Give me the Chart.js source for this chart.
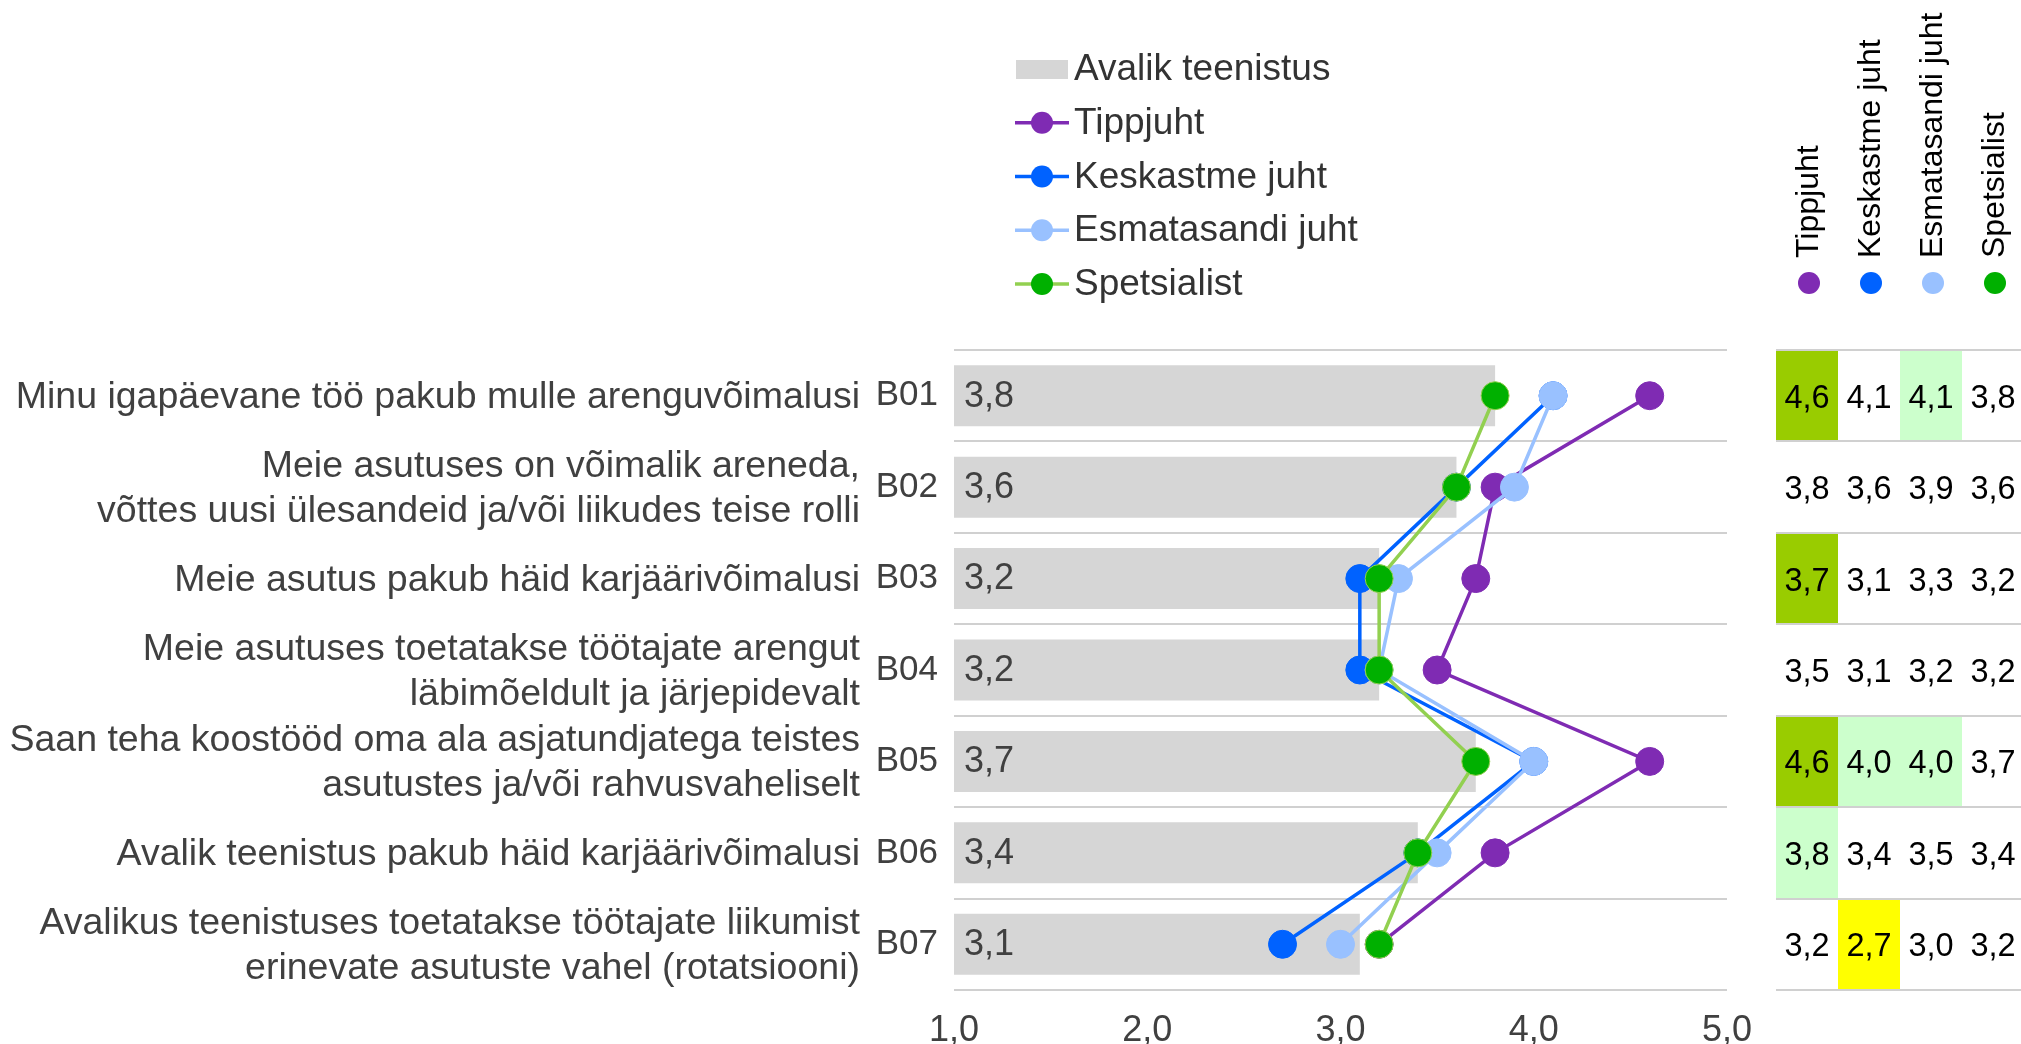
<!DOCTYPE html>
<html lang="et">
<head>
<meta charset="utf-8">
<title>Arenguvõimalused</title>
<script src="https://cdn.jsdelivr.net/npm/chart.js@4/dist/chart.umd.min.js"></script>
<style>
  html, body { margin: 0; padding: 0; background: #fff; }
  canvas { display: block; }
</style>
</head>
<body>
<canvas id="chart" width="2021" height="1044"></canvas>
<script>
// ---- data ----
const codes = ['B01', 'B02', 'B03', 'B04', 'B05', 'B06', 'B07'];

const statements = [
  ['Minu igapäevane töö pakub mulle arenguvõimalusi'],
  ['Meie asutuses on võimalik areneda,', 'võttes uusi ülesandeid ja/või liikudes teise rolli'],
  ['Meie asutus pakub häid karjäärivõimalusi'],
  ['Meie asutuses toetatakse töötajate arengut', 'läbimõeldult ja järjepidevalt'],
  ['Saan teha koostööd oma ala asjatundjatega teistes', 'asutustes ja/või rahvusvaheliselt'],
  ['Avalik teenistus pakub häid karjäärivõimalusi'],
  ['Avalikus teenistuses toetatakse töötajate liikumist', 'erinevate asutuste vahel (rotatsiooni)']
];

const avalikTeenistus = [3.8, 3.6, 3.2, 3.2, 3.7, 3.4, 3.1];
const tippjuht        = [4.6, 3.8, 3.7, 3.5, 4.6, 3.8, 3.2];
const keskastmeJuht   = [4.1, 3.6, 3.1, 3.1, 4.0, 3.4, 2.7];
const esmatasandiJuht = [4.1, 3.9, 3.3, 3.2, 4.0, 3.5, 3.0];
const spetsialist     = [3.8, 3.6, 3.2, 3.2, 3.7, 3.4, 3.2];

// comparison with the public-service average: 2 = much higher, 1 = higher, -1 = lower
const tippjuhtFlags    = [2, 0, 2, 0, 2, 1, 0];
const keskastmeFlags   = [0, 0, 0, 0, 1, 0, -1];
const esmatasandiFlags = [1, 0, 0, 0, 1, 0, 0];
const spetsialistFlags = [0, 0, 0, 0, 0, 0, 0];

const xTicks = [1, 2, 3, 4, 5];

// ---- styling ----
const FONT = '"Liberation Sans", Arial, Helvetica, sans-serif';
const TEXT = '#404040';
const GRID = '#d0d0d0';
const BAR = '#d6d6d6';

const groups = [
  { name: 'Tippjuht',         values: tippjuht,        flags: tippjuhtFlags,    dot: '#7f2bb3', line: '#7f2bb3' },
  { name: 'Keskastme juht',   values: keskastmeJuht,   flags: keskastmeFlags,   dot: '#0062ff', line: '#0062ff' },
  { name: 'Esmatasandi juht', values: esmatasandiJuht, flags: esmatasandiFlags, dot: '#99c1ff', line: '#99c1ff' },
  { name: 'Spetsialist',      values: spetsialist,     flags: spetsialistFlags, dot: '#00b000', line: '#92d050' }
];
const flagFill = { '2': '#99cc00', '1': '#ccffcc', '-1': '#ffff00' };

const fmt = v => v.toFixed(1).replace('.', ',');

// ---- extra drawing: statements, value labels, side table, legend ----
const extras = {
  id: 'extras',
  afterDatasetsDraw(chart) {
    const { ctx, chartArea } = chart;
    const meta = chart.getDatasetMeta(chart.data.datasets.length - 1);
    ctx.save();
    ctx.font = `36px ${FONT}`;
    ctx.fillStyle = TEXT;
    ctx.textAlign = 'left';
    ctx.textBaseline = 'middle';
    meta.data.forEach((bar, i) => {
      ctx.fillText(fmt(avalikTeenistus[i]), chartArea.left + 10, bar.y + 1);
    });
    ctx.restore();
  },
  afterDraw(chart) {
    const { ctx, chartArea } = chart;
    const yScale = chart.scales.y;
    const rowH = (chartArea.bottom - chartArea.top) / codes.length;
    ctx.save();

    // statements left of the codes
    ctx.font = `37.5px ${FONT}`;
    ctx.fillStyle = TEXT;
    ctx.textAlign = 'right';
    ctx.textBaseline = 'middle';
    statements.forEach((lines, i) => {
      const cy = yScale.getPixelForValue(i) + 2;
      lines.forEach((line, k) => {
        ctx.fillText(line, chartArea.left - 94, cy + (k - (lines.length - 1) / 2) * 45);
      });
    });

    // side table
    const colLeft = chartArea.right + 49;
    const colW = 62;
    const tableRight = chart.width;
    codes.forEach((c, i) => {
      const cy = yScale.getPixelForValue(i);
      const top = cy - rowH / 2;
      groups.forEach((g, j) => {
        const f = g.flags[i];
        if (f) {
          ctx.fillStyle = flagFill[String(f)];
          ctx.fillRect(colLeft + j * colW, top, colW, rowH);
        }
      });
    });
    ctx.strokeStyle = GRID;
    ctx.lineWidth = 2;
    for (let i = 0; i <= codes.length; i++) {
      const y = Math.round(chartArea.top + i * rowH);
      ctx.beginPath();
      ctx.moveTo(colLeft, y);
      ctx.lineTo(tableRight, y);
      ctx.stroke();
    }
    ctx.font = `32.5px ${FONT}`;
    ctx.fillStyle = '#000';
    ctx.textAlign = 'center';
    ctx.textBaseline = 'middle';
    codes.forEach((c, i) => {
      const cy = yScale.getPixelForValue(i) + 3;
      groups.forEach((g, j) => {
        ctx.fillText(fmt(g.values[i]), colLeft + (j + 0.5) * colW, cy);
      });
    });

    // table header: rotated names and dots
    groups.forEach((g, j) => {
      const cx = colLeft + (j + 0.5) * colW;
      ctx.fillStyle = g.dot;
      ctx.beginPath();
      ctx.arc(cx + 2, chartArea.top - 67, 11, 0, Math.PI * 2);
      ctx.fill();
      ctx.save();
      ctx.translate(cx + 11, chartArea.top - 92);
      ctx.rotate(-Math.PI / 2);
      ctx.font = `32px ${FONT}`;
      ctx.fillStyle = '#000';
      ctx.textAlign = 'left';
      ctx.textBaseline = 'alphabetic';
      ctx.fillText(g.name, 0, 0);
      ctx.restore();
    });

    // legend
    const lx = 1015, ly = 69, step = 53.75;
    ctx.font = `37px ${FONT}`;
    ctx.textAlign = 'left';
    ctx.textBaseline = 'middle';
    ctx.fillStyle = BAR;
    ctx.fillRect(lx + 1, ly - 9, 52, 19);
    ctx.fillStyle = '#333';
    ctx.fillText('Avalik teenistus', lx + 59, ly + 1);
    groups.forEach((g, j) => {
      const y = ly + (j + 1) * step;
      ctx.strokeStyle = g.line;
      ctx.lineWidth = 3.5;
      ctx.beginPath();
      ctx.moveTo(lx, y);
      ctx.lineTo(lx + 54, y);
      ctx.stroke();
      ctx.fillStyle = g.dot;
      ctx.beginPath();
      ctx.arc(lx + 27, y, 11, 0, Math.PI * 2);
      ctx.fill();
      ctx.fillStyle = '#333';
      ctx.fillText(g.name, lx + 59, y + 1);
    });

    ctx.restore();
  }
};

// ---- datasets (lowest order is drawn on top) ----
const lineDatasets = groups.map((g, j) => ({
  type: 'line',
  label: g.name,
  data: g.values,
  indexAxis: 'y',
  borderColor: g.line,
  borderWidth: 3.5,
  backgroundColor: g.dot,
  pointBackgroundColor: g.dot,
  pointBorderColor: g.line,
  pointBorderWidth: 1,
  pointRadius: 14,
  tension: 0,
  fill: false,
  order: 4 - j
}));

new Chart(document.getElementById('chart'), {
  type: 'bar',
  data: {
    labels: codes,
    datasets: [
      ...lineDatasets,
      {
        type: 'bar',
        label: 'Avalik teenistus',
        data: avalikTeenistus,
        base: 1,
        backgroundColor: BAR,
        borderWidth: 0,
        categoryPercentage: 1,
        barPercentage: 0.667,
        order: 5
      }
    ]
  },
  options: {
    indexAxis: 'y',
    responsive: false,
    devicePixelRatio: 1,
    animation: false,
    layout: { padding: { top: 350, right: 294, left: 0, bottom: 0 } },
    plugins: {
      legend: { display: false },
      tooltip: { enabled: false }
    },
    scales: {
      x: {
        type: 'linear',
        position: 'bottom',
        min: xTicks[0],
        max: xTicks[xTicks.length - 1],
        afterBuildTicks: s => { s.ticks = xTicks.map(v => ({ value: v })); },
        ticks: {
          callback: v => fmt(v),
          color: TEXT,
          font: { family: FONT, size: 36 },
          padding: 19,
          maxRotation: 0
        },
        grid: { display: false, drawTicks: false },
        border: { display: false },
        afterFit: s => { s.height = 54; }
      },
      y: {
        type: 'category',
        position: 'left',
        offset: true,
        ticks: {
          color: TEXT,
          font: { family: FONT, size: 35 },
          padding: 16
        },
        grid: { offset: true, color: GRID, lineWidth: 2, drawTicks: false },
        border: { display: false },
        afterFit: s => { s.width = 954; }
      }
    }
  },
  plugins: [extras]
});
</script>
</body>
</html>
